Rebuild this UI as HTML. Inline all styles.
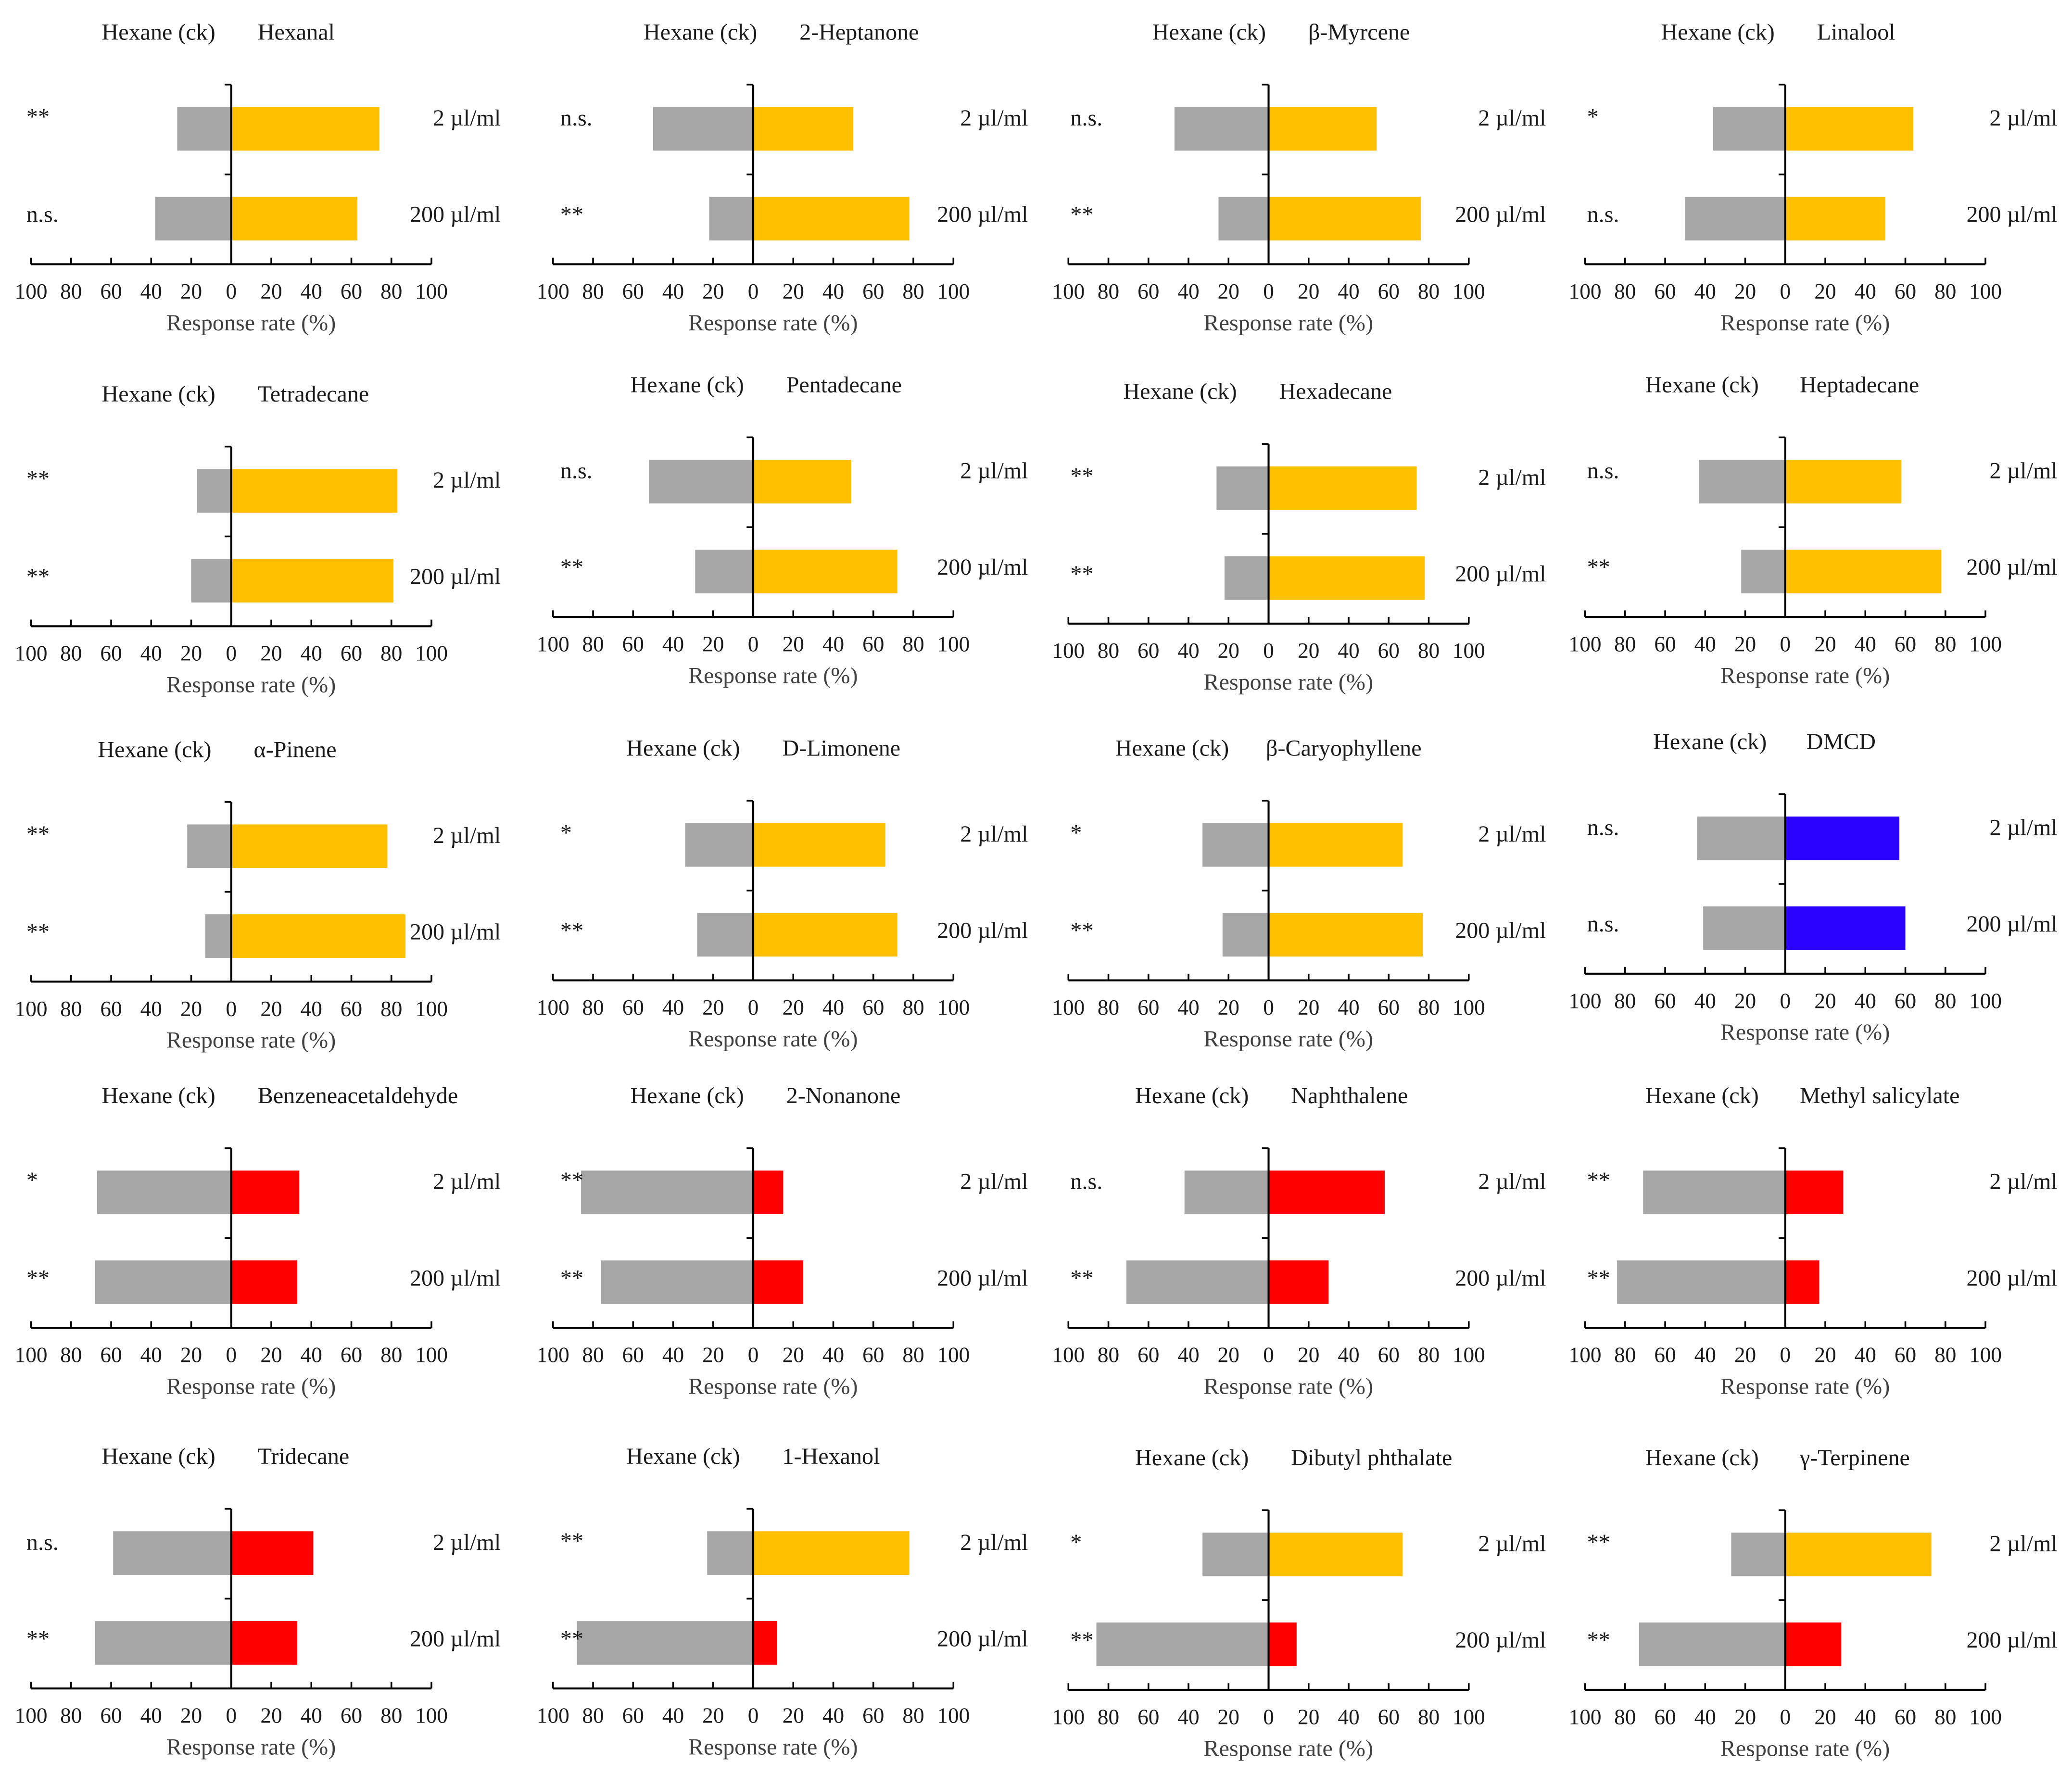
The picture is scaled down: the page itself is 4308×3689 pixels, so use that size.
<!DOCTYPE html>
<html><head><meta charset="utf-8"><style>
html,body{margin:0;padding:0;background:#fff}
svg{display:block}
text{font-family:"Liberation Serif",serif;fill:#1a1a1a}
</style></head><body>
<svg id="c" width="4308" height="3689" viewBox="0 0 1568 1342.7" preserveAspectRatio="none" xmlns="http://www.w3.org/2000/svg"></svg>
<script>
const compounds=["Hexanal","2-Heptanone","β-Myrcene","Linalool","Tetradecane","Pentadecane","Hexadecane","Heptadecane","α-Pinene","D-Limonene","β-Caryophyllene","DMCD","Benzeneacetaldehyde","2-Nonanone","Naphthalene","Methyl salicylate","Tridecane","1-Hexanol","Dibutyl phthalate","γ-Terpinene"];
const ckLow=[27,50,47,36,17,52,26,43,22,34,33,44,67,86,42,71,59,23,33,27];
const trLow=[74,50,54,64,83,49,74,58,78,66,67,57,34,15,58,29,41,78,67,73];
const ckHigh=[38,22,25,50,20,29,22,22,13,28,23,41,68,76,71,84,68,88,86,73];
const trHigh=[63,78,76,50,81,72,78,78,87,72,77,60,33,25,30,17,33,12,14,28];
const sigLow=["**","n.s.","n.s.","*","**","n.s.","**","n.s.","**","*","*","n.s.","*","**","n.s.","**","n.s.","**","*","**"];
const sigHigh=["n.s.","**","**","n.s.","**","**","**","**","**","**","**","n.s.","**","**","**","**","**","**","**","**"];
const colLow=["y","y","y","y","y","y","y","y","y","y","y","b","r","r","r","r","r","y","y","y"];
const colHigh=["y","y","y","y","y","y","y","y","y","y","y","b","r","r","r","r","r","r","r","r"];
const ticks=[100,80,60,40,20,0,20,40,60,80,100];
const colX=[175,570,960,1351];
const rowY=[[200,200,200,200],[474,467,472,467],[743,742,742,737],[1005,1005,1005,1005],[1278,1278,1279,1279]];
const ckX=[120,530,915,1300,120,520,893,1288,117,517,887,1294,120,520,902,1288,120,517,902,1288];
const nameX=[195,605,990,1375,195,595,968,1362,192,592,958,1367,195,595,977,1362,195,592,977,1362];
const doseOff=[204,208,210,206];
const sigOff=[-155,-146,-150,-150];
const COL={y:"#ffc000",r:"#ff0000",b:"#2a00ff"};
const NS="http://www.w3.org/2000/svg";
const svg=document.getElementById('c');
const S=1.515;
function mk(tag,attrs,parent,txt){const e=document.createElementNS(NS,tag);for(const k in attrs)e.setAttribute(k,attrs[k]);if(txt!==undefined)e.textContent=txt;parent.appendChild(e);return e;}
compounds.forEach((name,i)=>{
  const r=Math.floor(i/4),c=i%4;
  const cx=colX[c],A=rowY[r][c];
  const g=mk('g',{},svg);
  
  
  const xs=v=>cx+v*S;
  const bars=[[ckLow[i],trLow[i],colLow[i],A-119,'2'],[ckHigh[i],trHigh[i],colHigh[i],A-51,'200']];
  bars.forEach(b=>{
    const h=33;
    const g1=mk('rect',{x:xs(-b[0]),y:b[3],width:b[0]*S,height:h,fill:'#a6a6a6'},g);
    
    
    const t1=mk('rect',{x:cx,y:b[3],width:b[1]*S,height:h,fill:COL[b[2]]},g);
    
    
  });
  const ax=mk('line',{x1:xs(-100),x2:xs(100),y1:A,y2:A,stroke:'#000','stroke-width':1.5},g);
  
  
  ticks.forEach((t,k)=>{
    const v=(k-5)*20;
    mk('line',{x1:xs(v),x2:xs(v),y1:A-5,y2:A,stroke:'#000','stroke-width':1.3},g);
    const tl=mk('text',{x:xs(v),y:A+26,'font-size':16.5,'text-anchor':'middle'},g,String(t));
    
    
  });
  const vy=mk('line',{x1:cx,x2:cx,y1:A-136,y2:A,stroke:'#000','stroke-width':1.5},g);
  
  
  mk('line',{x1:cx-5,x2:cx,y1:A-136,y2:A-136,stroke:'#000','stroke-width':1.3},g);
  mk('line',{x1:cx-5,x2:cx,y1:A-68,y2:A-68,stroke:'#000','stroke-width':1.3},g);
  const h1=mk('text',{x:ckX[i],y:A-170,'font-size':17.5,'text-anchor':'middle'},g,'Hexane (ck)');
  
  
  const h2=mk('text',{x:nameX[i],y:A-170,'font-size':17.5},g,name);
  
  
  const l1=mk('text',{x:cx+doseOff[c],y:A-105,'font-size':17.5,'text-anchor':'end'},g,'2 µl/ml');
  
  
  const l2=mk('text',{x:cx+doseOff[c],y:A-32,'font-size':17.5,'text-anchor':'end'},g,'200 µl/ml');
  
  
  const s1=mk('text',{x:cx+sigOff[c],y:A-(sigLow[i]==='n.s.'?105:106),'font-size':17.5},g,sigLow[i]);
  
  
  const s2=mk('text',{x:cx+sigOff[c],y:A-(sigHigh[i]==='n.s.'?32:32),'font-size':17.5},g,sigHigh[i]);
  
  
  const xt=mk('text',{x:cx+15,y:A+50,'font-size':17.5,'text-anchor':'middle',style:'fill:#404040'},g,'Response rate (%)');
  
  
});
</script>
</body></html>
